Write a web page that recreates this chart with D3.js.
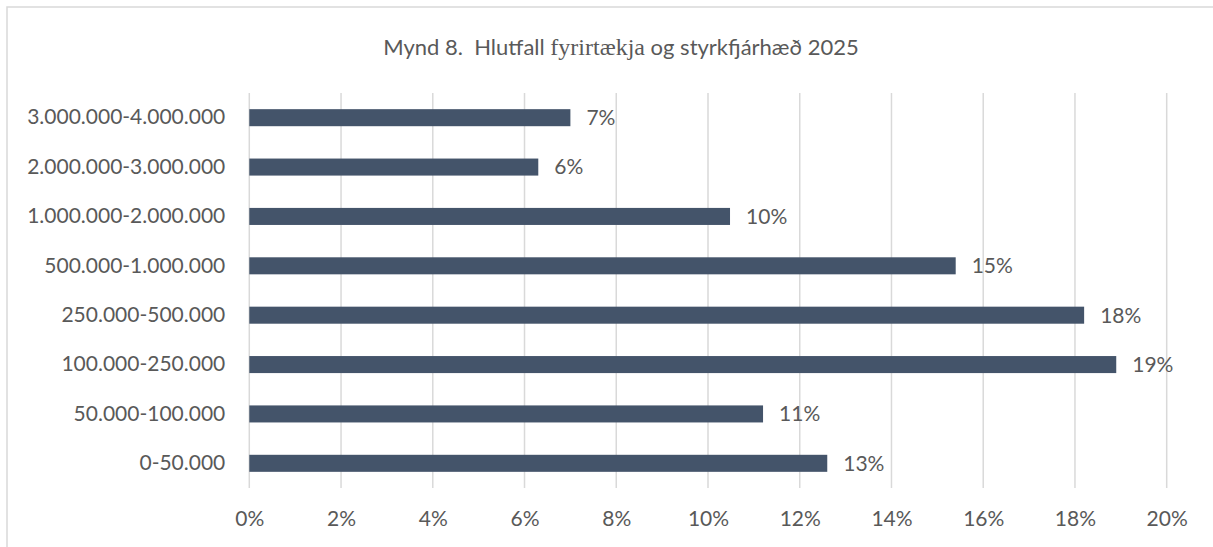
<!DOCTYPE html>
<html lang="is">
<head>
<meta charset="utf-8" />
<title>Mynd 8</title>
<script src="https://cdn.jsdelivr.net/npm/d3@7"></script>
<style>
  body { margin: 0; background: #fff; }
  svg { display: block; }
  text { font-family: Lato, "Open Sans", sans-serif; fill: #595959; }
</style>
</head>
<body>
<div id="chart"></div>
<script>
// flokkar, ofan frá og niður
const categories = [
  "3.000.000-4.000.000",
  "2.000.000-3.000.000",
  "1.000.000-2.000.000",
  "500.000-1.000.000",
  "250.000-500.000",
  "100.000-250.000",
  "50.000-100.000",
  "0-50.000"
];
// hlutfall fyrirtækja
const shares = [0.070, 0.063, 0.1048, 0.154, 0.182, 0.189, 0.112, 0.126];
const xTicks = [0, 0.02, 0.04, 0.06, 0.08, 0.10, 0.12, 0.14, 0.16, 0.18, 0.20];

const width = 1213, height = 547;
const plot = { left: 249.3, right: 1166.7, top: 93, bottom: 488 };

const svg = d3.select("#chart").append("svg")
  .attr("width", width)
  .attr("height", height);

// ramminn utan um
svg.append("rect")
  .attr("x", 7).attr("y", 7)
  .attr("width", width + 20).attr("height", height + 20)
  .attr("fill", "none")
  .attr("stroke", "#d9d9d9")
  .attr("stroke-width", 1.5);

const x = d3.scaleLinear().domain([0, 0.2]).range([plot.left, plot.right]);
const y = d3.scaleBand()
  .domain(categories)
  .range([plot.top, plot.bottom])
  .paddingInner(0.655)
  .paddingOuter(0.3275);

// lóðréttar hnitalínur
svg.append("g")
  .selectAll("line")
  .data(xTicks)
  .join("line")
  .attr("x1", d => x(d)).attr("x2", d => x(d))
  .attr("y1", plot.top).attr("y2", plot.bottom)
  .attr("stroke", "#d9d9d9")
  .attr("stroke-width", 1.5);

// x-ás
const xAxis = svg.append("g")
  .attr("transform", "translate(0," + plot.bottom + ")")
  .call(d3.axisBottom(x).tickValues(xTicks).tickFormat(d3.format(".0%")).tickSize(0).tickPadding(23));
xAxis.select(".domain").remove();
xAxis.selectAll("text")
  .attr("font-size", 21)
  .attr("font-family", null)
  .style("fill", "#595959");

// y-ás
const yAxis = svg.append("g")
  .attr("transform", "translate(" + plot.left + ",0)")
  .call(d3.axisLeft(y).tickSize(0).tickPadding(24));
yAxis.select(".domain").remove();
yAxis.selectAll("text")
  .attr("font-size", 21)
  .attr("font-family", null)
  .style("fill", "#595959");

const rows = categories.map((c, i) => ({ cat: c, value: shares[i] }));

svg.append("g")
  .selectAll("rect")
  .data(rows)
  .join("rect")
  .attr("x", x(0))
  .attr("y", d => y(d.cat))
  .attr("width", d => x(d.value) - x(0))
  .attr("height", y.bandwidth())
  .attr("fill", "#44546a");

svg.append("g")
  .selectAll("text")
  .data(rows)
  .join("text")
  .attr("x", d => x(d.value) + 16)
  .attr("y", d => y(d.cat) + y.bandwidth() / 2)
  .attr("dy", "0.35em")
  .attr("font-size", 21)
  .text(d => d3.format(".0%")(d.value));

// titill
const title = svg.append("text")
  .attr("x", 621)
  .attr("y", 55)
  .attr("text-anchor", "middle")
  .attr("font-size", 22)
  .style("white-space", "pre");
title.append("tspan").text("Mynd 8.  Hlutfall ");
title.append("tspan")
  .style("font-family", "'Liberation Serif', serif")
  .attr("font-size", 24)
  .text("fyrirtækja");
title.append("tspan").text(" og styrkfjárhæð 2025");
</script>
</body>
</html>
